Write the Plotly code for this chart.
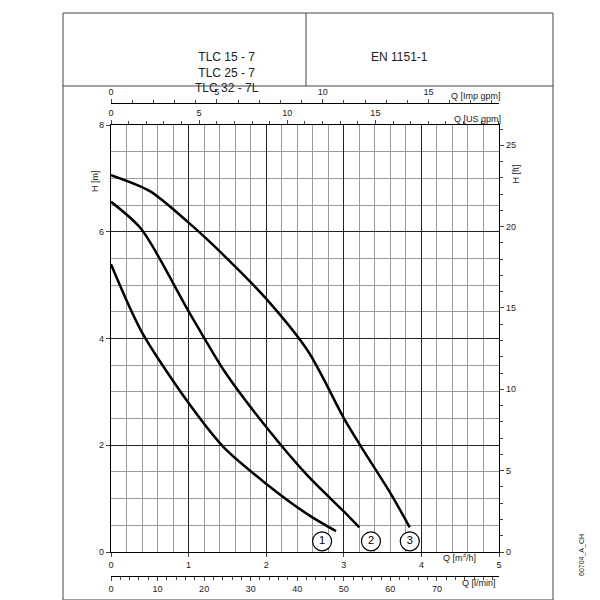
import plotly.graph_objects as go

q1 = [0, 0.39, 1.0, 1.46, 1.99, 2.54, 2.9]
h1 = [5.39, 4.14, 2.79, 1.95, 1.29, 0.70, 0.39]
q2 = [0, 0.39, 1.0, 1.46, 1.99, 2.54, 3.0, 3.2]
h2 = [6.56, 6.05, 4.51, 3.39, 2.36, 1.42, 0.76, 0.46]
q3 = [0, 0.5, 1.0, 1.46, 1.99, 2.54, 3.0, 3.22, 3.61, 3.85]
h3 = [7.06, 6.76, 6.17, 5.55, 4.76, 3.76, 2.51, 1.98, 1.08, 0.46]
labels = ["1", "2", "3"]
label_q = [2.72, 3.35, 3.85]
models = ["TLC 15 - 7", "TLC 25 - 7", "TLC 32 - 7L"]
QMAX = 5.0
HMAX = 8.0

F = dict(family="Liberation Sans, Arial", size=9, color="#222")
fig = go.Figure()
for q, h in [(q1, h1), (q2, h2), (q3, h3)]:
    fig.add_trace(go.Scatter(x=q, y=h, mode="lines", line=dict(color="black", width=2.5, shape="spline", smoothing=0.8),
                             showlegend=False, hoverinfo="skip"))
fig.add_trace(go.Scatter(x=label_q, y=[0.2]*3, mode="markers+text", text=labels,
                         marker=dict(size=19, color="white", line=dict(color="black", width=1.2)),
                         textfont=dict(family="Liberation Sans", size=11, color="black"),
                         showlegend=False, hoverinfo="skip"))
fig.add_trace(go.Scatter(x=[None], y=[None], xaxis="x2", yaxis="y2", showlegend=False))
fig.add_trace(go.Scatter(x=[None], y=[None], xaxis="x3", yaxis="y", showlegend=False))
fig.add_trace(go.Scatter(x=[None], y=[None], xaxis="x4", yaxis="y", showlegend=False))

X0, X1 = 103/600, 491/600
Y0, Y1 = 1-544/600, 1-117/600
common = dict(showline=True, linecolor="black", linewidth=1.2, tickfont=F, ticklen=4, ticks="outside")
fig.update_layout(
    width=600, height=600, margin=dict(l=0, r=0, t=0, b=0, autoexpand=False),
    plot_bgcolor="white", paper_bgcolor="white",
    xaxis=dict(domain=[X0, X1], range=[0, QMAX], dtick=1, gridcolor="#222", gridwidth=1.3,
               minor=dict(dtick=0.2, showgrid=True, gridcolor="#999", gridwidth=0.8),
               zeroline=False, **common),
    yaxis=dict(domain=[Y0, Y1], range=[0, HMAX], dtick=2, gridcolor="#222", gridwidth=1.3,
               minor=dict(dtick=0.5, showgrid=True, gridcolor="#999", gridwidth=0.8),
               zeroline=False, **common),
    xaxis2=dict(overlaying="x", side="top", anchor="y", range=[0, QMAX*4.4029], tickvals=[0, 5, 10, 15],
                minor=dict(dtick=1, ticks="outside", ticklen=3), showgrid=False, zeroline=False, **common),
    yaxis2=dict(overlaying="y", side="right", anchor="x", range=[0, HMAX*3.28084], dtick=5,
                minor=dict(dtick=1, ticks="outside", ticklen=3), showgrid=False, zeroline=False, **common),
    xaxis3=dict(overlaying="x", side="top", anchor="free", position=1-95/600, range=[0, QMAX*3.6662],
                tickvals=[0, 5, 10, 15], minor=dict(dtick=1, ticks="outside", ticklen=3), showgrid=False, zeroline=False, **common),
    xaxis4=dict(overlaying="x", side="bottom", anchor="free", position=1-568/600, range=[0, QMAX*16.6667],
                tickvals=[0, 10, 20, 30, 40, 50, 60, 70], minor=dict(dtick=2, ticks="outside", ticklen=3),
                showgrid=False, zeroline=False, **common),
)
shapes = [
    dict(type="rect", xref="paper", yref="paper", x0=55/600, x1=545/600, y0=1-592/600, y1=1-5/600,
         line=dict(color="#444", width=1)),
    dict(type="line", xref="paper", yref="paper", x0=55/600, x1=545/600, y0=1-78/600, y1=1-78/600,
         line=dict(color="#444", width=1)),
    dict(type="line", xref="paper", yref="paper", x0=298/600, x1=298/600, y0=1-78/600, y1=1-5/600,
         line=dict(color="#444", width=1)),
]
fig.update_layout(shapes=shapes)
ann = [
    dict(x=185/600, y=1-40/600, text="<br>".join(models), font=dict(family="Liberation Sans", size=12, color="#222")),
    dict(x=422/600, y=1-40/600, text="EN 1151-1", font=dict(family="Liberation Sans", size=12, color="#222")),
    dict(x=495/600, y=1-81/600, text="Q [Imp gpm]", xanchor="right", font=F),
    dict(x=495/600, y=1-104/600, text="Q [US gpm]", xanchor="right", font=F),
    dict(x=470/600, y=1-557/600, text="Q [m<sup>3</sup>/h]", xanchor="right", font=F),
    dict(x=490/600, y=1-582/600, text="Q [l/min]", xanchor="right", font=F),
    dict(x=80/600, y=1-160/600, text="H [m]", textangle=-90, font=F),
    dict(x=515/600, y=1-155/600, text="H [ft]", textangle=-90, font=F),
    dict(x=580/600, y=1-570/600, text="60704_A_CH", textangle=-90, font=dict(family="Liberation Sans", size=7, color="#222")),
]
for a in ann:
    a.update(xref="paper", yref="paper", showarrow=False)
fig.update_layout(annotations=ann)
fig.write_html("out.html")
